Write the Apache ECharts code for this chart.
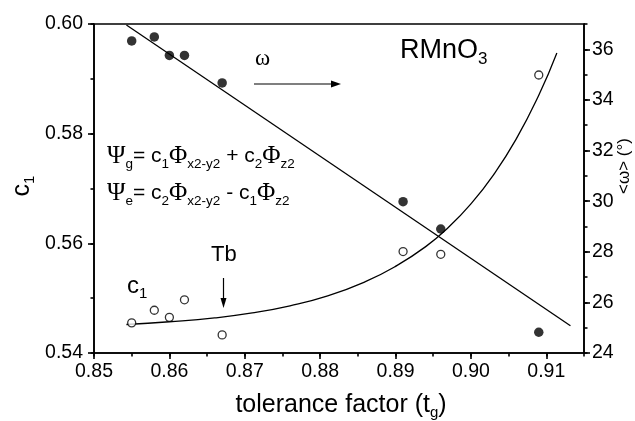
<!DOCTYPE html>
<html>
<head>
<meta charset="utf-8">
<script src="https://cdn.jsdelivr.net/npm/echarts@6/dist/echarts.min.js"></script>
<style>
  html, body { margin: 0; padding: 0; background: #fff; }
  #chart { width: 635px; height: 421px; }
</style>
</head>
<body>
<div id="chart"></div>
<script>
// Tolerance factor of each RMnO3 compound
const toleranceFactor = [0.855, 0.858, 0.860, 0.862, 0.867, 0.891, 0.896, 0.909];
// Mixing coefficient c1 (open circles, left axis)
const c1Values = [0.5455, 0.5478, 0.5465, 0.5497, 0.5433, 0.5585, 0.5580, 0.5907];
// Mean tilt angle <ω> in degrees (filled circles, right axis)
const omegaValues = [36.33, 36.49, 35.76, 35.76, 34.67, 29.98, 28.90, 24.82];

// Fitted curve through c1
const c1FitX = [0.8543, 0.8600, 0.8660, 0.8710, 0.8760, 0.8810, 0.8860, 0.8900,
                0.8940, 0.8970, 0.9000, 0.9030, 0.9060, 0.9090, 0.9114];
const c1FitY = [0.5452, 0.5457, 0.5464, 0.5473, 0.5486, 0.5504, 0.5530, 0.5558,
                0.5594, 0.5629, 0.5672, 0.5725, 0.5790, 0.5870, 0.5947];
// Linear fit of <ω>
const omegaFitX = [0.8543, 0.9132];
const omegaFitY = [36.96, 25.08];

// Axis ranges and tick steps
const xRange = [0.85, 0.915], xStep = 0.01, xMinorStep = 0.005;
const c1Range = [0.54, 0.60], c1Step = 0.02, c1MinorStep = 0.01;
const omegaRange = [24, 37], omegaStep = 2, omegaMinorStep = 1;

const zip = (xs, ys) => xs.map((x, i) => [x, ys[i]]);

const SANS = 'Liberation Sans, Arial, sans-serif';
const SERIF = 'Liberation Serif, Times New Roman, serif';
const black = '#000';
const gridBox = { left: 94, right: 51, top: 24, bottom: 68 };

const lineStyle = { color: black, width: 1.6 };
const baseLabel = { color: black, fontSize: 19.5, fontFamily: SANS };

const chart = echarts.init(document.getElementById('chart'), null, { renderer: 'canvas' });

// rich-text styles for formulas with subscripts
const mainTok = (size, family) => ({ fontSize: size, fontFamily: family || SANS, lineHeight: 30, verticalAlign: 'middle', color: black });
const subTok = (size) => ({ fontSize: size, fontFamily: SANS, lineHeight: 14, verticalAlign: 'bottom', color: black });

const formulaRich = {
  t: mainTok(21),
  g: mainTok(25, SERIF),
  s: subTok(13.5)
};

chart.setOption({
  backgroundColor: '#fff',
  animation: false,
  grid: [
    Object.assign({ show: true, borderColor: black, borderWidth: 1.6, backgroundColor: 'transparent' }, gridBox),
    Object.assign({ show: false }, gridBox)
  ],
  xAxis: [
    {
      type: 'value', gridIndex: 0, min: xRange[0], max: xRange[1], interval: xStep,
      axisLine: { lineStyle: lineStyle },
      axisTick: { length: 6, lineStyle: lineStyle },
      axisLabel: Object.assign({ margin: 9, showMaxLabel: false, formatter: v => v.toFixed(2) }, baseLabel),
      splitLine: { show: false }
    },
    {
      type: 'value', gridIndex: 1, min: xRange[0], max: xRange[1], interval: xMinorStep,
      axisLine: { show: false },
      axisTick: { length: 3.5, lineStyle: lineStyle },
      axisLabel: { show: false },
      splitLine: { show: false }
    }
  ],
  yAxis: [
    {
      type: 'value', gridIndex: 0, position: 'left', min: c1Range[0], max: c1Range[1], interval: c1Step,
      axisLine: { show: true, lineStyle: lineStyle },
      axisTick: { show: true, length: 6, lineStyle: lineStyle },
      axisLabel: Object.assign({ margin: 11, formatter: v => v.toFixed(2) }, baseLabel),
      splitLine: { show: false }
    },
    {
      type: 'value', gridIndex: 0, position: 'right', min: omegaRange[0], max: omegaRange[1], interval: omegaStep,
      axisLine: { show: true, lineStyle: lineStyle },
      axisTick: { show: true, length: 6, lineStyle: lineStyle },
      axisLabel: Object.assign({ margin: 8, showMaxLabel: false, formatter: v => String(Math.round(v)) }, baseLabel),
      splitLine: { show: false }
    },
    {
      type: 'value', gridIndex: 1, position: 'left', min: c1Range[0], max: c1Range[1], interval: c1MinorStep,
      axisLine: { show: false },
      axisTick: { show: true, length: 3.5, lineStyle: lineStyle },
      axisLabel: { show: false },
      splitLine: { show: false }
    },
    {
      type: 'value', gridIndex: 1, position: 'right', min: omegaRange[0], max: omegaRange[1], interval: omegaMinorStep,
      axisLine: { show: false },
      axisTick: { show: true, length: 3.5, lineStyle: lineStyle },
      axisLabel: { show: false },
      splitLine: { show: false }
    }
  ],
  series: [
    {
      name: 'c1 fit', type: 'line', xAxisIndex: 0, yAxisIndex: 0,
      data: zip(c1FitX, c1FitY), showSymbol: false, smooth: 0.5,
      lineStyle: { color: black, width: 1.3 }, z: 2
    },
    {
      name: 'ω fit', type: 'line', xAxisIndex: 0, yAxisIndex: 1,
      data: zip(omegaFitX, omegaFitY), showSymbol: false,
      lineStyle: { color: black, width: 1.3 }, z: 2
    },
    {
      name: 'c1', type: 'scatter', xAxisIndex: 0, yAxisIndex: 0,
      data: zip(toleranceFactor, c1Values), symbol: 'circle', symbolSize: 8,
      itemStyle: { color: '#fff', borderColor: black, borderWidth: 1.3 }, z: 3
    },
    {
      name: '<ω>', type: 'scatter', xAxisIndex: 0, yAxisIndex: 1,
      data: zip(toleranceFactor, omegaValues), symbol: 'circle', symbolSize: 9.5,
      itemStyle: { color: black }, z: 3
    }
  ],
  graphic: [
    // axis titles
    {
      type: 'text', x: 341, y: 390,
      style: {
        text: '{a|tolerance factor (t}{s|g}{a|)}', align: 'center',
        rich: { a: mainTok(25), s: subTok(15) }
      }
    },
    {
      type: 'text', x: 22, y: 186, rotation: Math.PI / 2,
      style: {
        text: '{a|c}{s|1}', align: 'center', verticalAlign: 'middle',
        rich: { a: mainTok(25), s: subTok(15) }
      }
    },
    {
      type: 'text', x: 624, y: 166, rotation: Math.PI / 2,
      style: { text: '<ω> (°)', align: 'center', verticalAlign: 'middle', fontSize: 17, fontFamily: SANS, fill: black }
    },
    // compound label
    {
      type: 'text', x: 400, y: 34,
      style: {
        text: '{a|RMnO}{s|3}',
        rich: { a: Object.assign(mainTok(27), { lineHeight: 34 }), s: subTok(17) }
      }
    },
    // wavefunctions
    {
      type: 'text', x: 107, y: 141,
      style: { text: '{g|Ψ}{s|g}{t|= c}{s|1}{g|Φ}{s|x2-y2}{t| + c}{s|2}{g|Φ}{s|z2}', rich: formulaRich }
    },
    {
      type: 'text', x: 107, y: 178,
      style: { text: '{g|Ψ}{s|e}{t|= c}{s|2}{g|Φ}{s|x2-y2}{t| - c}{s|1}{g|Φ}{s|z2}', rich: formulaRich }
    },
    // ω annotation with arrow pointing to the right axis
    {
      type: 'text', x: 255, y: 59,
      style: { text: 'ω', verticalAlign: 'middle', fontSize: 23, fontFamily: SERIF, fill: black }
    },
    { type: 'line', shape: { x1: 254, y1: 84, x2: 333, y2: 84 }, style: { stroke: black, lineWidth: 1.2 } },
    { type: 'polygon', shape: { points: [[331, 80.5], [341, 84], [331, 87.5]] }, style: { fill: black } },
    // c1 annotation
    {
      type: 'text', x: 127, y: 271,
      style: { text: '{a|c}{s|1}', rich: { a: mainTok(24), s: subTok(15) } }
    },
    // Tb marker with downward arrow
    {
      type: 'text', x: 211, y: 255,
      style: { text: 'Tb', verticalAlign: 'middle', fontSize: 22, fontFamily: SANS, fill: black }
    },
    { type: 'line', shape: { x1: 223.5, y1: 278, x2: 223.5, y2: 300 }, style: { stroke: black, lineWidth: 1.2 } },
    { type: 'polygon', shape: { points: [[220.5, 298], [223.5, 308], [226.5, 298]] }, style: { fill: black } }
  ]
});
</script>
</body>
</html>
